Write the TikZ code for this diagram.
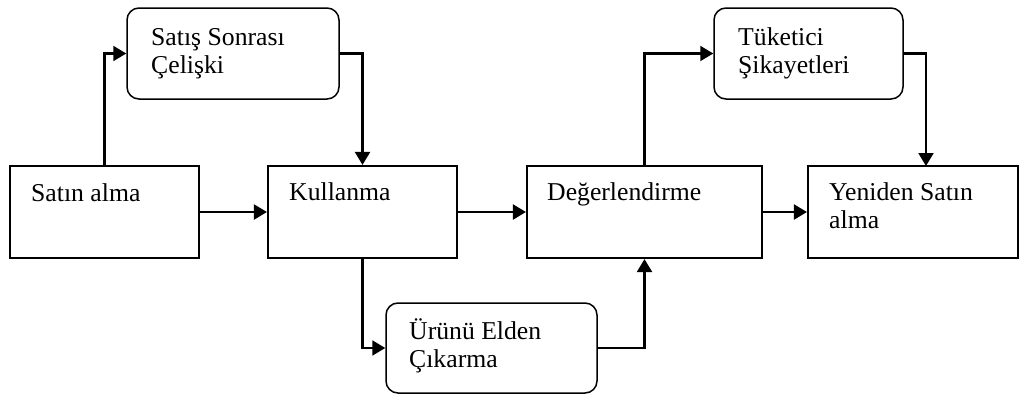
\documentclass[tikz,border=0pt]{standalone}
\usepackage{fontspec}
\setmainfont{Liberation Serif}
\usetikzlibrary{arrows.meta}
\begin{document}
\begin{tikzpicture}[x=1pt,y=-1pt,
  stagebox/.style={draw,line width=2.1pt,inner sep=0pt,minimum width=#1,minimum height=92pt},
  notebox/.style={draw,line width=1.5pt,rounded corners=12pt,inner sep=0pt,minimum width=#1,minimum height=91pt},
  lbl/.style={anchor=base west,inner sep=0pt,align=left,font=\fontsize{25.7}{28}\selectfont},
  flow/.style={line width=2.1pt,-{Triangle[length=13pt,width=15pt]}}]
\useasboundingbox (0,0) rectangle (1020,397);
% main stages
\node[stagebox=189pt] (sa) at (104.5,212) {};
\node[stagebox=189pt] (ku) at (362.5,212) {};
\node[stagebox=235pt] (de) at (644.5,212) {};
\node[stagebox=210pt] (ye) at (913,212) {};
% side notes
\node[notebox=212pt] (ss) at (233,53.5) {};
\node[notebox=189pt] (tk) at (808.5,53.5) {};
\node[notebox=211pt,minimum height=90pt] (ur) at (491.5,348) {};
% labels (base anchor sits on the last line)
\node[lbl] (tsa) at (31,201) {Satın alma};
\node[lbl] (tku) at (289,200) {Kullanma};
\node[lbl] (tde) at (547,200) {Değerlendirme};
\node[lbl] (tye) at (829,228) {Yeniden Satın\\alma};
\node[lbl] (tss) at (151,73) {Satış Sonrası\\Çelişki};
\node[lbl] (ttk) at (738,73) {Tüketici\\Şikayetleri};
\node[lbl] (tur) at (409,367) {Ürünü Elden\\Çıkarma};
% connectors
\coordinate (yein) at (926,166);
\draw[flow] (sa.east) -- (ku.west);
\draw[flow] (ku.east) -- (de.west);
\draw[flow] (de.east) -- (ye.west);
\draw[flow] (sa.north) |- (ss.west);
\draw[flow] (ss.east) -| (ku.north);
\draw[flow] (ku.south) |- (ur.west);
\draw[flow] (ur.east) -| (de.south);
\draw[flow] (de.north) |- (tk.west);
\draw[flow] (tk.east) -| (yein);
\end{tikzpicture}
\end{document}
